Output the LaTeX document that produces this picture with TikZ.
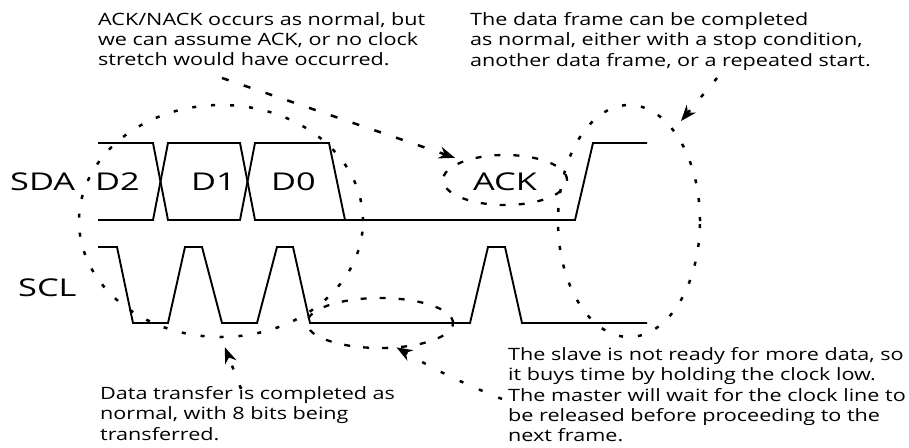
\documentclass[tikz,border=0pt]{standalone}
\usepackage{fontspec}
\setmainfont{Open Sans}
\newfontfamily\notefont[FakeStretch=1.27]{Open Sans}
\newfontfamily\sigfont[FakeStretch=1.4]{Open Sans}
\usetikzlibrary{shapes.geometric,arrows.meta}

\tikzset{
  wire/.style={line width=1.9pt, line join=miter},
  siglabel/.style={font=\sigfont\fontsize{24.5}{28}\selectfont, inner sep=0pt, anchor=base west},
  note/.style={font=\notefont\fontsize{17}{20.4}\selectfont, align=left, inner sep=0pt, anchor=north west},
  ring/.style={ellipse, inner sep=0pt, outer sep=0pt, line width=2.5pt},
  dotring/.style={ring, draw, dash pattern=on 4pt off 15pt},
  dashring/.style={ring, draw, line width=2.3pt, dash pattern=on 6pt off 13pt},
  pointer/.style={line width=2.5pt, dash pattern=on 4pt off 17pt,
    -{Stealth[length=16pt, width=12pt, inset=5pt]}},
  dashpointer/.style={pointer, dash pattern=on 7pt off 16pt},
}

\begin{document}
\begin{tikzpicture}[x=1pt, y=-1pt]
  \useasboundingbox (0,0) rectangle (909,447);
  \fill[white] (0,0) rectangle (909,447);

  % signal names
  \node[siglabel] (sda) at (10,190) {SDA};
  \node[siglabel] (scl) at (18,296) {SCL};

  % SDA data bits
  \node[siglabel] (d2) at (95,190) {D2};
  \node[siglabel] (d1) at (191,190) {D1};
  \node[siglabel] (d0) at (271,190) {D0};
  \node[siglabel] (ack) at (473,190) {ACK};

  % SDA line
  \draw[wire] (98,143) -- (153,143) -- (168,220) -- (240,220) -- (255,143)
    -- (329,143) -- (345,220) -- (575,220) -- (593,143) -- (647,143);
  \draw[wire] (98,220) -- (153,220) -- (168,143) -- (240,143) -- (255,220)
    -- (345,220);

  % SCL line with the stretched low phase
  \draw[wire] (98,247) -- (117,247) -- (133,323) -- (168,323) -- (185,247)
    -- (202,247) -- (222,323) -- (257,323) -- (277,247) -- (293,247)
    -- (310,323) -- (470,323) -- (488,247) -- (505,247) -- (522,323)
    -- (647,323);

  % highlighted regions
  \node[dotring, minimum width=284pt, minimum height=232pt] (dataring) at (221,221) {};
  \node[dashring, minimum width=124pt, minimum height=50pt] (ackring) at (505,180) {};
  \node[dotring, minimum width=142pt, minimum height=232pt] (framering) at (629,221) {};
  \node[dashring, minimum width=146pt, minimum height=50pt] (stretchring) at (380,323) {};

  % explanations
  \node[note] (acknote) at (98,12) {ACK/NACK occurs as normal, but\\we can assume ACK, or no clock\\stretch would have occurred.};
  \node[note] (framenote) at (470,12) {The data frame can be completed\\as normal, either with a stop condition,\\another data frame, or a repeated start.};
  \node[note] (datanote) at (100,386) {Data transfer is completed as\\normal, with 8 bits being\\transferred.};
  \node[note] (stretchnote) at (508,347) {The slave is not ready for more data, so\\it buys time by holding the clock low.\\The master will wait for the clock line to\\be released before proceeding to the\\next frame.};

  % pointers from the explanations
  \coordinate (ackfrom) at (222,78);
  \coordinate (framefrom) at (717,78);
  \coordinate (datafrom) at (241,389);
  \coordinate (stretchfrom) at (502,399);
  \draw[dashpointer, shorten >=10pt] (ackfrom) -- (ackring.155);
  \draw[pointer, shorten >=12pt] (framefrom) -- (framering.64);
  \draw[pointer, shorten >=11pt] (datafrom) -- (dataring.south);
  \draw[pointer] (stretchfrom) to[bend left=4] (stretchring.-56);
\end{tikzpicture}
\end{document}
